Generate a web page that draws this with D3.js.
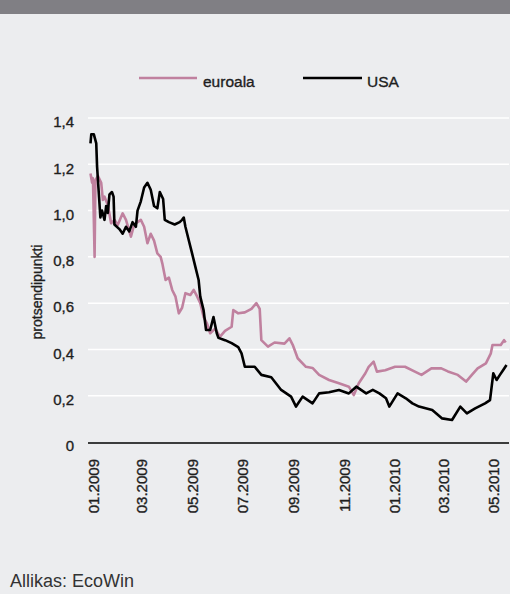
<!DOCTYPE html>
<html>
<head>
<meta charset="utf-8">
<script src="https://cdn.jsdelivr.net/npm/d3@7"></script>
<style>
  html, body { margin: 0; padding: 0; background: #ecedef; }
  svg { display: block; font-family: "Liberation Sans", Arial, Helvetica, sans-serif; }
</style>
</head>
<body>
<svg id="chart" width="510" height="594"></svg>
<script>
// ---- data ----
const seriesNames = ["euroala", "USA"];
const yTicks = [0, 0.2, 0.4, 0.6, 0.8, 1.0, 1.2, 1.4];
const xTickLabels = ["01.2009", "03.2009", "05.2009", "07.2009", "09.2009", "11.2009", "01.2010", "03.2010", "05.2010"];
const xTickDates = ["2009-01-01", "2009-03-01", "2009-05-01", "2009-07-01", "2009-09-01", "2009-11-01", "2010-01-01", "2010-03-01", "2010-05-01"];

const euroDates = ["2009-01-02","2009-01-04","2009-01-05","2009-01-07","2009-01-08","2009-01-11","2009-01-15","2009-01-17","2009-01-19","2009-01-23","2009-01-27","2009-01-31","2009-02-04","2009-02-10","2009-02-14","2009-02-20","2009-02-24","2009-03-04","2009-03-08","2009-03-12","2009-03-16","2009-03-20","2009-03-24","2009-03-28","2009-03-30","2009-04-03","2009-04-07","2009-04-11","2009-04-15","2009-04-19","2009-04-23","2009-04-27","2009-05-03","2009-05-07","2009-05-11","2009-05-15","2009-05-19","2009-05-23","2009-05-27","2009-06-02","2009-06-08","2009-06-14","2009-06-22","2009-06-24","2009-06-30","2009-07-08","2009-07-16","2009-07-22","2009-07-26","2009-07-28","2009-08-05","2009-08-13","2009-08-25","2009-08-31","2009-09-04","2009-09-10","2009-09-20","2009-09-28","2009-10-06","2009-10-18","2009-10-30","2009-11-11","2009-11-17","2009-11-23","2009-12-01","2009-12-05","2009-12-11","2009-12-15","2009-12-25","2010-01-06","2010-01-18","2010-01-30","2010-02-07","2010-02-19","2010-03-03","2010-03-11","2010-03-23","2010-04-02","2010-04-09","2010-04-16","2010-04-26","2010-05-02","2010-05-04","2010-05-14","2010-05-18","2010-05-20"];
const euroValues = [1.16,1.12,1.14,0.80,1.13,1.15,1.12,1.046,1.06,1.024,0.945,0.96,0.938,0.988,0.96,0.887,0.94,0.96,0.93,0.859,0.90,0.87,0.815,0.80,0.772,0.70,0.71,0.657,0.628,0.556,0.58,0.643,0.635,0.657,0.63,0.60,0.541,0.513,0.47,0.49,0.455,0.48,0.498,0.57,0.556,0.56,0.575,0.60,0.575,0.44,0.412,0.43,0.425,0.448,0.42,0.362,0.325,0.32,0.29,0.268,0.254,0.239,0.203,0.254,0.297,0.325,0.347,0.304,0.31,0.325,0.325,0.304,0.29,0.318,0.318,0.305,0.29,0.261,0.29,0.318,0.34,0.383,0.419,0.419,0.44,0.43];

const usaDates = ["2009-01-02","2009-01-03","2009-01-06","2009-01-09","2009-01-10","2009-01-12","2009-01-14","2009-01-16","2009-01-19","2009-01-21","2009-01-23","2009-01-25","2009-01-28","2009-01-30","2009-01-31","2009-02-06","2009-02-10","2009-02-14","2009-02-18","2009-02-22","2009-02-26","2009-02-28","2009-03-04","2009-03-08","2009-03-12","2009-03-16","2009-03-20","2009-03-24","2009-03-27","2009-03-31","2009-04-02","2009-04-07","2009-04-14","2009-04-20","2009-04-23","2009-04-25","2009-04-27","2009-05-01","2009-05-05","2009-05-09","2009-05-13","2009-05-15","2009-05-19","2009-05-22","2009-05-27","2009-05-31","2009-06-04","2009-06-06","2009-06-14","2009-06-22","2009-06-30","2009-07-04","2009-07-08","2009-07-20","2009-07-28","2009-08-09","2009-08-21","2009-09-02","2009-09-08","2009-09-16","2009-09-28","2009-10-06","2009-10-18","2009-10-30","2009-11-11","2009-11-20","2009-12-02","2009-12-10","2009-12-18","2009-12-26","2009-12-30","2010-01-09","2010-01-19","2010-01-27","2010-02-04","2010-02-20","2010-03-04","2010-03-16","2010-03-26","2010-04-03","2010-04-13","2010-04-25","2010-05-01","2010-05-05","2010-05-09","2010-05-13","2010-05-17","2010-05-21"];
const usaValues = [1.29,1.33,1.33,1.29,1.19,1.08,0.97,1.00,0.96,1.02,0.99,1.07,1.08,1.06,0.94,0.92,0.90,0.93,0.91,0.95,0.93,1.00,1.04,1.10,1.12,1.09,1.02,1.01,1.08,1.05,0.96,0.95,0.94,0.95,0.96,0.97,0.93,0.873,0.816,0.758,0.70,0.628,0.57,0.484,0.484,0.54,0.47,0.45,0.44,0.427,0.41,0.383,0.325,0.325,0.29,0.28,0.225,0.196,0.153,0.196,0.167,0.21,0.215,0.225,0.21,0.239,0.21,0.225,0.21,0.189,0.153,0.21,0.189,0.167,0.153,0.138,0.102,0.095,0.153,0.124,0.145,0.167,0.181,0.297,0.268,0.29,0.311,0.333];

const sourceText = "Allikas: EcoWin";
const yAxisTitle = "protsendipunkti";

// ---- chart ----
const parse = d3.timeParse("%Y-%m-%d");
const svg = d3.select("#chart");
const W = 510, H = 594;
const plotL = 88, plotR = 509, plotT = 118, plotB = 442;
const colors = { euroala: "#c0819f", USA: "#000000" };
const ink = "#1e1e1e";

svg.append("rect").attr("width", W).attr("height", H).attr("fill", "#ecedef");
svg.append("rect").attr("width", W).attr("height", 14).attr("fill", "#807f84");

const x = d3.scaleTime()
  .domain([parse("2008-12-30"), parse("2010-05-24")])
  .range([plotL, plotR]);
const y = d3.scaleLinear().domain([0, 1.4]).range([plotB, plotT]);

// gridlines
svg.append("g").selectAll("line").data(yTicks.filter(d => d > 0)).join("line")
  .attr("x1", plotL).attr("x2", plotR)
  .attr("y1", d => y(d)).attr("y2", d => y(d))
  .attr("stroke", "#ffffff").attr("stroke-width", 1.5);

function boldish(sel) {
  sel.attr("fill", ink).attr("stroke", ink).attr("stroke-width", 0.35)
     .attr("font-family", "'Liberation Sans', Arial, sans-serif");
}

// y axis labels
const yAxis = d3.axisLeft(y).tickValues(yTicks)
  .tickFormat(d => d === 0 ? "0" : d3.format(".1f")(d).replace(".", ","))
  .tickSize(0).tickPadding(0);
const gy = svg.append("g").attr("transform", `translate(${plotL - 14},4)`).call(yAxis);
gy.select(".domain").remove();
gy.selectAll("text").attr("font-size", 15).call(boldish);

svg.append("text")
  .attr("transform", `translate(42,${(plotT + plotB) / 2 + 12}) rotate(-90)`)
  .attr("text-anchor", "middle").attr("font-size", 14)
  .call(boldish)
  .text(yAxisTitle);

// x axis
const xAxis = d3.axisBottom(x)
  .tickValues(xTickDates.map(parse))
  .tickFormat((d, i) => xTickLabels[i])
  .tickSize(0).tickPadding(0);
const gx = svg.append("g").attr("transform", `translate(0,${plotB + 1})`).call(xAxis);
gx.select(".domain").attr("stroke", "#000").attr("stroke-width", 1.6)
  .attr("d", `M${plotL},0H${plotR}`);
gx.selectAll("text")
  .attr("font-size", 15)
  .call(boldish)
  .attr("text-anchor", "end")
  .attr("y", 0)
  .attr("dy", null)
  .attr("transform", "translate(8.5,16) rotate(-90)");

// lines
const line = d3.line().x(d => x(d.date)).y(d => y(d.value)).curve(d3.curveLinear);
const euro = euroDates.map((d, i) => ({ date: parse(d), value: euroValues[i] }));
const usa = usaDates.map((d, i) => ({ date: parse(d), value: usaValues[i] }));

svg.append("path").datum(euro).attr("d", line)
  .attr("fill", "none").attr("stroke", colors.euroala).attr("stroke-width", 2.6)
  .attr("stroke-linejoin", "round");
svg.append("path").datum(usa).attr("d", line)
  .attr("fill", "none").attr("stroke", colors.USA).attr("stroke-width", 2.6)
  .attr("stroke-linejoin", "round");

// legend
const legend = [
  { name: seriesNames[0], x1: 139, x2: 197, tx: 203 },
  { name: seriesNames[1], x1: 303, x2: 362, tx: 367 }
];
const lg = svg.append("g");
legend.forEach(l => {
  lg.append("line").attr("x1", l.x1).attr("x2", l.x2).attr("y1", 78).attr("y2", 78)
    .attr("stroke", colors[l.name]).attr("stroke-width", 2.6);
  lg.append("text").attr("x", l.tx).attr("y", 87).attr("font-size", 15.5)
    .call(boldish).text(l.name);
});

// source
svg.append("text").attr("x", 10).attr("y", 587).attr("font-size", 18)
  .attr("fill", "#333").text(sourceText);
</script>
</body>
</html>
